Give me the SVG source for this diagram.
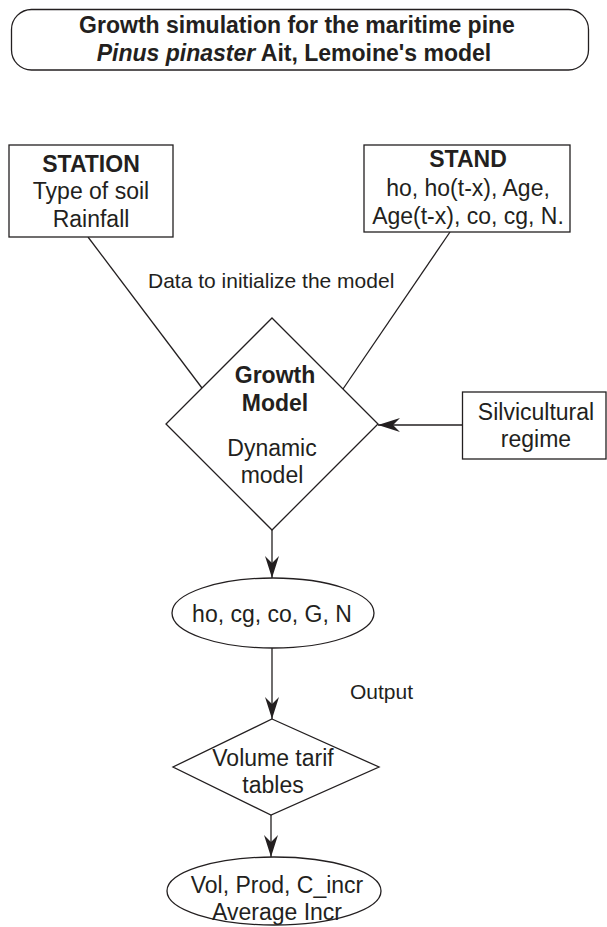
<svg xmlns="http://www.w3.org/2000/svg" width="607" height="927" viewBox="0 0 607 927">
<defs>
<style>
.t{font-family:"Liberation Sans",Arial,sans-serif;font-size:23px;fill:#231f20;text-anchor:middle}
.b{font-weight:bold}
.lbl{font-family:"Liberation Sans",Arial,sans-serif;font-size:21px;fill:#231f20}
.shape{fill:#fff;stroke:#231f20;stroke-width:1.3}
.edge{fill:none;stroke:#231f20;stroke-width:1.3}
</style>
<marker id="arr" markerUnits="userSpaceOnUse" viewBox="0 0 22 14" refX="22" refY="7" markerWidth="22" markerHeight="14" orient="auto">
<path d="M0,0 L22,7 L0,14 L7,7 Z" fill="#231f20"/>
</marker>
</defs>
<rect width="607" height="927" fill="#fff"/>
<g id="title">
<rect class="shape" x="11.5" y="9.5" width="577" height="60.5" rx="20" ry="20"/>
<text class="t b" x="297" y="33">Growth simulation for the maritime pine</text>
<text class="t b" x="294" y="61"><tspan font-style="italic">Pinus pinaster</tspan> Ait, Lemoine's model</text>
</g>
<g id="connectors">
<line class="edge" x1="88" y1="237" x2="202" y2="388"/>
<line class="edge" x1="450" y1="232" x2="343" y2="389"/>
<line class="edge" x1="462" y1="425" x2="378" y2="425" marker-end="url(#arr)"/>
<line class="edge" x1="272" y1="530" x2="272" y2="578" marker-end="url(#arr)"/>
<line class="edge" x1="272" y1="648" x2="272" y2="719" marker-end="url(#arr)"/>
<line class="edge" x1="271" y1="815" x2="271" y2="857" marker-end="url(#arr)"/>
<text class="lbl" x="148" y="288">Data to initialize the model</text>
<text class="lbl" x="350" y="699">Output</text>
</g>
<g id="station">
<rect class="shape" x="9" y="145" width="164" height="92"/>
<text class="t b" x="91" y="172">STATION</text>
<text class="t" x="91" y="199">Type of soil</text>
<text class="t" x="91" y="227">Rainfall</text>
</g>
<g id="stand">
<rect class="shape" x="364" y="145" width="206" height="87"/>
<text class="t b" x="468" y="167">STAND</text>
<text class="t" x="468" y="196">ho, ho(t-x), Age,</text>
<text class="t" x="468" y="224">Age(t-x), co, cg, N.</text>
</g>
<g id="growth-model">
<polygon class="shape" points="272,318 378,424 272,530 166,424"/>
<text class="t b" x="275" y="383">Growth</text>
<text class="t b" x="275" y="411">Model</text>
<text class="t" x="272" y="456">Dynamic</text>
<text class="t" x="272" y="483">model</text>
</g>
<g id="silvicultural">
<rect class="shape" x="462.5" y="392" width="143.5" height="67"/>
<text class="t" x="536" y="420">Silvicultural</text>
<text class="t" x="536" y="447">regime</text>
</g>
<g id="output-vars">
<ellipse class="shape" cx="273" cy="613" rx="101" ry="35"/>
<text class="t" x="272" y="622">ho, cg, co, G, N</text>
</g>
<g id="volume-tarif">
<polygon class="shape" points="272,719 379,767 271,815 173,767"/>
<text class="t" x="273" y="766">Volume tarif</text>
<text class="t" x="273" y="793">tables</text>
</g>
<g id="results">
<ellipse class="shape" cx="274" cy="891" rx="107" ry="34"/>
<text class="t" x="277" y="893">Vol, Prod, C_incr</text>
<text class="t" x="277" y="920">Average Incr</text>
</g>
</svg>
